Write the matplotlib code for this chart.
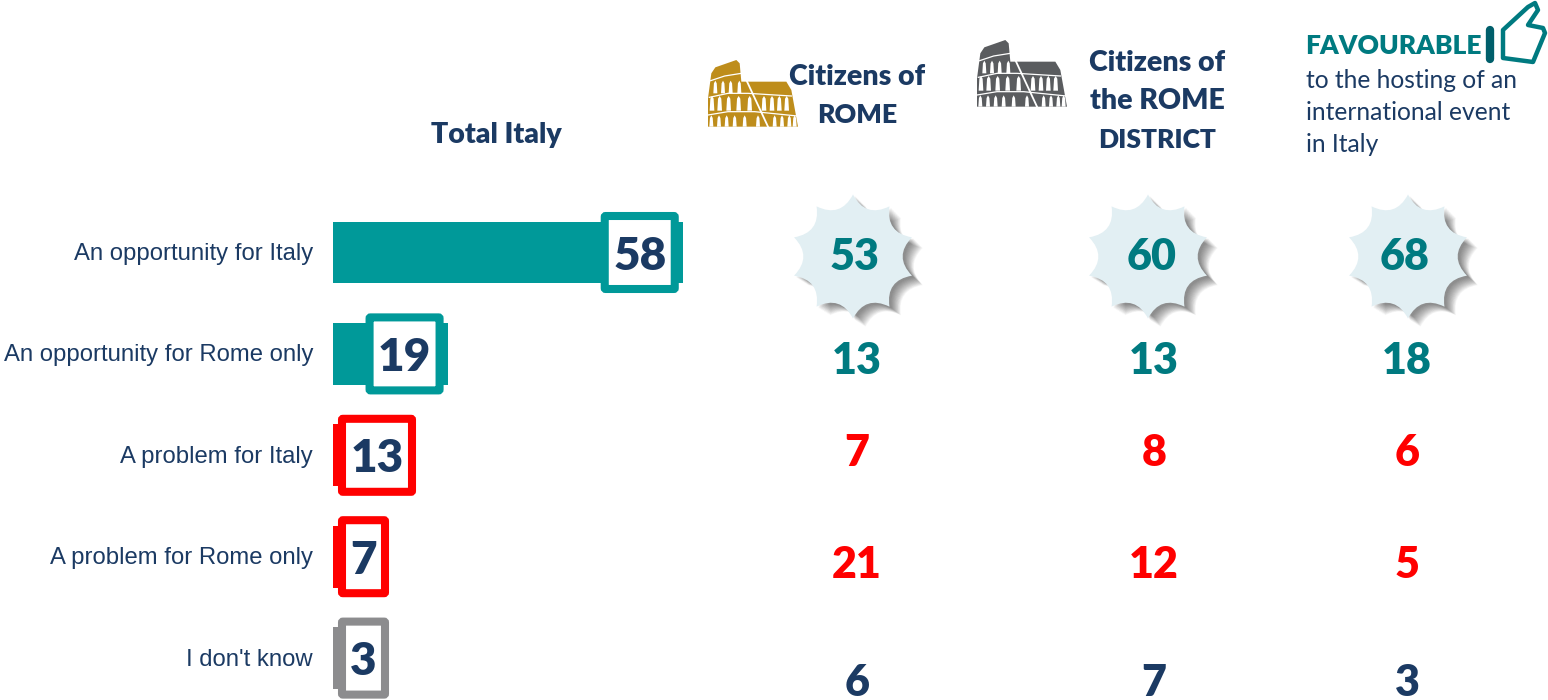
import matplotlib
matplotlib.use('Agg')
import numpy as np
import matplotlib.pyplot as plt
from matplotlib.patches import FancyBboxPatch, PathPatch, Polygon
from matplotlib.path import Path

W, H = 1548, 700

# data
categories = ['An opportunity for Italy', 'An opportunity for Rome only', 'A problem for Italy',
              'A problem for Rome only', "I don't know"]
total_italy = [58, 19, 13, 7, 3]
citizens_rome = [53, 13, 7, 21, 6]
citizens_district = [60, 13, 8, 12, 7]
favourable = [68, 18, 6, 5, 3]

NAVY = '#1B3A63'
TEAL = '#009999'
DARK_TEAL = '#007A80'
RED = '#FF0000'
GREY = '#8C8C8E'
bar_colors = [TEAL, TEAL, RED, RED, GREY]
num_colors = [DARK_TEAL, DARK_TEAL, RED, RED, NAVY]

fig = plt.figure(figsize=(W / 100, H / 100), dpi=100, facecolor='white')

# bars in value units
row_y = [252.5, 353.9, 455.3, 556.7, 658.1]
x0 = 333
px_per_unit = 6.03
step = 101.4
ax_bar = fig.add_axes([x0 / W, 1 - (row_y[-1] + step / 2) / H, max(total_italy) * px_per_unit / W, step * 5 / H])
ax_bar.barh(range(5), total_italy, height=0.61, color=bar_colors)
ax_bar.set_xlim(0, max(total_italy))
ax_bar.set_ylim(4.5, -0.5)
ax_bar.axis('off')

# everything else in pixel coords
ax = fig.add_axes([0, 0, 1, 1], facecolor='none')
ax.set_xlim(0, W)
ax.set_ylim(H, 0)
ax.axis('off')

BOLD = dict(family='Lato', fontweight='heavy')


def star(cx, cy, R=62, n=10, inner=0.65):
    verts = [(cx, cy - R)]
    codes = [Path.MOVETO]
    for i in range(n):
        a = -np.pi / 2 + 2 * np.pi * i / n
        b = a + np.pi / n
        c = a + 2 * np.pi / n
        verts += [(cx + R * inner * np.cos(b), cy + R * inner * np.sin(b)), (cx + R * np.cos(c), cy + R * np.sin(c))]
        codes += [Path.CURVE3, Path.CURVE3]
    return Path(verts, codes)


def colosseum(x, y, color):
    def P(pts):
        return [(x + a / 3, y + b / 3) for a, b in pts]
    ax.add_patch(Polygon(P([(0, 200), (0, 115), (10, 40), (22, 22), (85, 0), (95, 10), (100, 65),
                            (235, 65), (250, 90), (270, 200)]), closed=True, fc=color, ec='none'))
    # bands
    ax.plot(*zip(*P([(8, 62), (50, 48), (100, 40)])), color='white', lw=0.9)
    ax.plot(*zip(*P([(4, 112), (60, 100), (120, 100), (250, 108)])), color='white', lw=0.9)
    ax.plot(*zip(*P([(0, 165), (60, 155), (140, 155), (268, 168)])), color='white', lw=0.9)
    ax.plot(*zip(*P([(108, 45), (180, 200)])), color='white', lw=1.3)
    # arches
    rows = [(100, 62, [22, 45, 68, 94], 6), (152, 108, [12, 35, 62, 92, 125, 168, 192, 214, 236], 7),
            (200, 166, [10, 33, 56, 80, 110, 150, 200, 222, 244, 260], 6)]
    for base, top, xs, hw in rows:
        for a in xs:
            ax.add_patch(Polygon(P([(a - hw, base), (a - hw * 0.7, top + 8), (a, top), (a + hw * 0.7, top + 8),
                                    (a + hw, base)]), closed=True, fc='white', ec='none'))


# stars with soft shadow
star_x = [853, 1148, 1408]
star_num_x = [855, 1152, 1405]
star_vals = [citizens_rome[0], citizens_district[0], favourable[0]]
for cx in star_x:
    for k in range(16):
        off = 2 + k * 0.7
        ax.add_patch(PathPatch(star(cx + off, 256.5 + off * 0.8, R=62 - k * 0.12), fc='#404040', ec='none', alpha=0.05))
    ax.add_patch(PathPatch(star(cx, 256.5), fc='#E2EFF3', ec='none'))
for tx, v in zip(star_num_x, star_vals):
    ax.text(tx, 253, str(v), ha='center', va='center_baseline', color=DARK_TEAL, fontsize=31, **BOLD)

# category labels
for y, c in zip(row_y, categories):
    ax.text(313, y + 1.5, c, ha='right', va='center', family='Liberation Sans', fontsize=17.2, color=NAVY)

# value boxes over the bars
for i, v in enumerate(total_italy):
    w = 78 if v >= 10 else 51
    right = x0 + v * px_per_unit - 4
    left = max(338, right - w)
    cy = row_y[i]
    ax.add_patch(FancyBboxPatch((left + 4, cy - 36.5), w - 8, 73, boxstyle='round,pad=0,rounding_size=1',
                                fc='white', ec=bar_colors[i], lw=5.8))
    ax.text(left + w / 2, cy, str(v), ha='center', va='center_baseline', color=NAVY, fontsize=33, **BOLD)

# right columns, first row is on the stars
num_y = [253, 357, 450, 562, 679]
for cx, vals in zip([857, 1154, 1407], [citizens_rome, citizens_district, favourable]):
    for i, v in list(enumerate(vals))[1:]:
        ax.text(cx, num_y[i], str(v), ha='center', va='center_baseline', color=num_colors[i], fontsize=31, **BOLD)

# headers
HEAD = dict(ha='center', va='center', color=NAVY, fontsize=20.5, **BOLD)
ax.text(496, 135, 'Total Italy', **HEAD)
ax.text(857, 77, 'Citizens of', **HEAD)
ax.text(857, 115, 'ROME', ha='center', va='center', color=NAVY, fontsize=19.3, **BOLD)
ax.text(1157, 63, 'Citizens of', **HEAD)
ax.text(1157, 101, 'the ROME', **HEAD)
ax.text(1157, 140, 'DISTRICT', ha='center', va='center', color=NAVY, fontsize=19, **BOLD)
ax.text(1305, 46, 'FAVOURABLE', ha='left', va='center', color=DARK_TEAL, fontsize=19, **BOLD)
for y, s in zip([81, 113, 145], ['to the hosting of an', 'international event', 'in Italy']):
    ax.text(1306, y, s, ha='left', va='center', family='Lato', color=NAVY, fontsize=17.7)

colosseum(708, 60, '#BE8D1B')
colosseum(977, 40, '#5A5C5F')

# thumb icon
ax.plot([1489.5, 1489.5], [30, 59], color='#005F6B', lw=6, solid_capstyle='round')
thumb = [(1503, 30), (1528, 7), (1535, 3), (1538, 10), (1528, 25), (1543, 28), (1545, 33), (1533, 62), (1503, 58)]
ax.add_patch(Polygon(thumb, closed=True, fc='none', ec=DARK_TEAL, lw=3.2, joinstyle='round'))

fig.savefig('out.png', dpi=100, facecolor='white')
